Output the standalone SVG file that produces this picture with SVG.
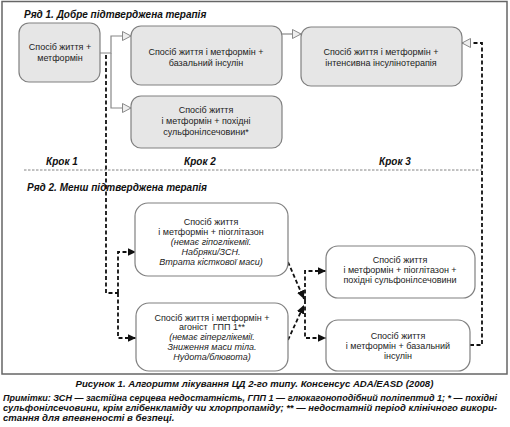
<svg xmlns="http://www.w3.org/2000/svg" width="510" height="427" viewBox="0 0 510 427">
<style>
text{font-family:"Liberation Sans",Arial,sans-serif;fill:#222}
.t{font-size:9px;text-anchor:middle}
.i{font-style:italic}
.h{font-size:10px;font-weight:bold;font-style:italic;fill:#111}
.b1{fill:#e6e6e6;stroke:#808080;stroke-width:1.2}
.b2{fill:#fff;stroke:#808080;stroke-width:1.2}
.sl{fill:none;stroke:#888;stroke-width:1.2}
.dl{fill:none;stroke:#111;stroke-width:1.8;stroke-dasharray:4 2.5}
.n{font-size:9.6px;font-weight:bold;font-style:italic;fill:#111}
.n1{font-size:9.1px}
</style>
<defs>
<marker id="open" markerUnits="userSpaceOnUse" markerWidth="11" markerHeight="11" refX="9" refY="5" orient="auto">
<path d="M0.5,0.5 L9,5 L0.5,9.5 z" fill="#eee" stroke="#888" stroke-width="1"/>
</marker>
<marker id="solid" markerUnits="userSpaceOnUse" markerWidth="10" markerHeight="10" refX="8.5" refY="4" orient="auto">
<path d="M0,0 L8.5,4 L0,8 z" fill="#111"/>
</marker>
</defs>
<rect x="2" y="1.5" width="505" height="372.5" fill="#fff" stroke="#666" stroke-width="1.5"/>
<text class="h" x="24" y="18">Ряд 1. Добре підтверджена терапія</text>
<text class="h" x="27" y="191">Ряд 2. Менш підтверджена терапія</text>
<text class="h" x="62" y="165" text-anchor="middle">Крок 1</text>
<text class="h" x="200" y="165" text-anchor="middle">Крок 2</text>
<text class="h" x="395" y="165" text-anchor="middle">Крок 3</text>
<line x1="24" y1="170" x2="482" y2="170" stroke="#777" stroke-width="0.9" stroke-dasharray="2.5 1.5"/>
<g id="connectors">
<path class="sl" d="M100,53 H111 V36 H131" marker-end="url(#open)"/>
<path class="sl" d="M111,53 V108 H131" marker-end="url(#open)"/>
<path class="sl" d="M282,34 H301" marker-end="url(#open)"/>
<path class="dl" d="M470,345 H482 V43 H462" marker-end="url(#open)"/>
<path class="dl" d="M106,55 V293 H118"/>
<path class="dl" d="M118,293 V252 H136" marker-end="url(#solid)"/>
<path class="dl" d="M118,293 V338 H136" marker-end="url(#solid)"/>
<path class="dl" d="M288,262 L304,299" marker-end="url(#solid)"/>
<path class="dl" d="M288,340 L304,305" marker-end="url(#solid)"/>
<path class="dl" d="M305,300 V271 H326" marker-end="url(#solid)"/>
<path class="dl" d="M305,300 V338 H326" marker-end="url(#solid)"/>
</g>
<g id="nodeA">
<rect class="b1" x="19" y="23" width="81" height="59" rx="10"/>
<text class="t" x="60" y="50">Спосіб життя +</text>
<text class="t" x="60" y="61">метформін</text>
</g>
<g id="nodeB">
<rect class="b1" x="131" y="26" width="151" height="59" rx="10"/>
<text class="t" x="206" y="55">Спосіб життя і метформін +</text>
<text class="t" x="206" y="66">базальний інсулін</text>
</g>
<g id="nodeC">
<rect class="b1" x="131" y="96" width="151" height="52" rx="10"/>
<text class="t" x="206" y="113">Спосіб життя</text>
<text class="t" x="206" y="124">і метформін + похідні</text>
<text class="t" x="206" y="135">сульфонілсечовини*</text>
</g>
<g id="nodeD">
<rect class="b1" x="301" y="27" width="161" height="59" rx="10"/>
<text class="t" x="381" y="55">Спосіб життя і метформін +</text>
<text class="t" x="381" y="66">інтенсивна інсулінотерапія</text>
</g>
<g id="nodeE">
<rect class="b2" x="135" y="203" width="153" height="73" rx="13"/>
<text class="t" x="211" y="225">Спосіб життя</text>
<text class="t" x="211" y="235">і метформін + піоглітазон</text>
<text class="t i" x="211" y="245">(немає гіпоглікемії.</text>
<text class="t i" x="211" y="255">Набряки/ЗСН.</text>
<text class="t i" x="211" y="265">Втрата кісткової маси)</text>
</g>
<g id="nodeF">
<rect class="b2" x="136" y="303" width="152" height="68" rx="13"/>
<text class="t" x="212" y="321">Спосіб життя і метформін +</text>
<text class="t" x="212" y="330" xml:space="preserve">агоніст  ГПП 1**</text>
<text class="t i" x="212" y="340">(немає гіперглікемії.</text>
<text class="t i" x="212" y="350">Зниження маси тіла.</text>
<text class="t i" x="212" y="360">Нудота/блювота)</text>
</g>
<g id="nodeG">
<rect class="b2" x="326" y="246" width="149" height="52" rx="12"/>
<text class="t" x="400" y="263">Спосіб життя</text>
<text class="t" x="400" y="273">і метформін + піоглітазон +</text>
<text class="t" x="400" y="283">похідні сульфонілсечовини</text>
</g>
<g id="nodeH">
<rect class="b2" x="326" y="320" width="144" height="51" rx="12"/>
<text class="t" x="398" y="339">Спосіб життя</text>
<text class="t" x="398" y="349">і метформін + базальний</text>
<text class="t" x="398" y="359">інсулін</text>
</g>
<text class="n" x="254.5" y="387" text-anchor="middle">Рисунок 1. Алгоритм лікування ЦД 2-го типу. Консенсус ADA/EASD (2008)</text>
<text class="n n1" x="3" y="401" textLength="494" lengthAdjust="spacingAndGlyphs">Примітки: ЗСН — застійна серцева недостатність, ГПП 1 — глюкагоноподібний поліпептид 1; * — похідні</text>
<text class="n n1" x="3" y="411" textLength="494" lengthAdjust="spacingAndGlyphs">сульфонілсечовини, крім глібенкламіду чи хлорпропаміду; ** — недостатній період клінічного викори-</text>
<text class="n" x="3" y="421">стання для впевненості в безпеці.</text>
</svg>
